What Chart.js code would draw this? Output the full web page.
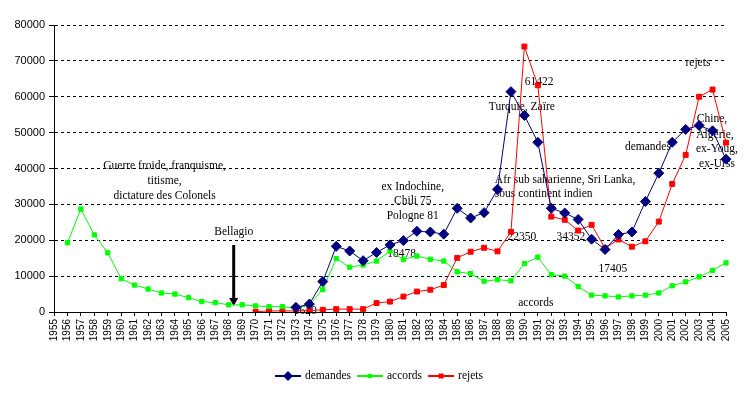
<!DOCTYPE html>
<html>
<head>
<meta charset="utf-8">
<script src="https://cdn.jsdelivr.net/npm/chart.js@4"></script>
<style>
  body { margin: 0; background: #fff; }
  canvas { display: block; }
</style>
</head>
<body>
<canvas id="asileChart" width="750" height="398"></canvas>
<script>
const years = [];
for (let y = 1955; y <= 2005; y++) years.push(String(y));

// 1956-2005
const accords = [null,
  19300, 28700, 21500, 16500, 9300, 7500, 6400, 5300, 5000, 4000,
  2900, 2600, 2000, 2000, 1700, 1500, 1500, 1000, 2000, 6300,
  14900, 12500, 13100, 14200, 17000, 14700, 15600, 14700, 14200, 11200,
  10700, 8600, 9000, 8700, 13500, 15300, 10400, 10000, 7100, 4700,
  4500, 4200, 4500, 4700, 5300, 7300, 8400, 9800, 11600, 13700];

// 1973-2005
const demandes = [null, null, null, null, null, null, null, null, null, null,
  null, null, null, null, null, null, null, null,
  1300, 2200, 8500, 18300, 17000, 14300, 16600, 18700, 19900, 22500,
  22300, 21700, 28900, 26200, 27700, 34200, 61422, 54800, 47300, 28900,
  27600, 25800, 20300, 17405, 21600, 22300, 30800, 38700, 47300, 50900,
  52000, 50500, 42600];

// 1970-2005
const rejets = [null, null, null, null, null, null, null, null, null, null,
  null, null, null, null, null,
  100, 300, 300, 300, 400, 600, 800, 800, 800, 2500,
  2900, 4300, 5700, 6200, 7500, 15100, 16800, 17900, 16900, 22350,
  74000, 63200, 26600, 25700, 22700, 24300, 17800, 20200, 18200, 19700,
  25200, 35700, 43800, 60000, 62000, 47200];

const yTicks = [0, 10000, 20000, 30000, 40000, 50000, 60000, 70000, 80000];

// text notes placed in data units: [text, year index, value, align]
const notes = [
  ['Guerre froide, franquisme,', 8.23, 40780, 'center'],
  ['titisme,', 8.23, 36500, 'center'],
  ['dictature des Colonels', 8.23, 32420, 'center'],
  ['Bellagio', 13.37, 22380, 'center'],
  ['ex Indochine,', 26.69, 34930, 'center'],
  ['Chili 75', 26.69, 30940, 'center'],
  ['Pologne 81', 26.69, 26760, 'center'],
  ['18478', 25.87, 16170, 'center'],
  ['1620', 18.69, 280, 'center'],
  ['61422', 36.1, 64200, 'center'],
  ['Turquie, Zaïre', 34.81, 57140, 'center'],
  ['Afr sub saharienne, Sri Lanka,', 32.8, 36800, 'left'],
  ['sous continent indien', 32.8, 32890, 'left'],
  ['22350', 34.81, 20900, 'center'],
  ['34352', 38.46, 20900, 'center'],
  ['17405', 41.59, 11990, 'center'],
  ['accords', 35.85, 2430, 'center'],
  ['demandes', 44.19, 46080, 'center'],
  ['rejets', 47.91, 69320, 'center'],
  ['Chine,', 48.96, 53720, 'center'],
  ['Algérie,', 49.18, 49340, 'center'],
  ['ex-Youg,', 49.33, 45350, 'center'],
  ['ex-Urss', 49.33, 41260, 'center'],
];
const bellagioArrow = { idx: 13.37, from: 18680, to: 1670 };

const serif = '"Liberation Serif", "Times New Roman", serif';
const sans = '"Liberation Sans", Arial, sans-serif';

const notesPlugin = {
  id: 'notes',
  beforeDatasetsDraw(chart) {
    const { ctx, scales: { x, y } } = chart;
    ctx.save();
    ctx.fillStyle = '#000';
    ctx.font = '11.5px ' + serif;
    ctx.textBaseline = 'middle';
    notes.forEach(([t, i, v, align]) => {
      ctx.textAlign = align;
      ctx.fillText(t, x.getPixelForValue(i), y.getPixelForValue(v));
    });
    // arrow
    const ax = x.getPixelForValue(bellagioArrow.idx);
    const y1 = y.getPixelForValue(bellagioArrow.from);
    const y2 = y.getPixelForValue(bellagioArrow.to);
    ctx.strokeStyle = '#000';
    ctx.lineWidth = 3;
    ctx.beginPath();
    ctx.moveTo(ax, y1);
    ctx.lineTo(ax, y2 - 6);
    ctx.stroke();
    ctx.beginPath();
    ctx.moveTo(ax - 4.5, y2 - 8);
    ctx.lineTo(ax + 4.5, y2 - 8);
    ctx.lineTo(ax, y2);
    ctx.closePath();
    ctx.fill();
    ctx.restore();
  }
};

const legendPlugin = {
  id: 'bottomLegend',
  afterDraw(chart) {
    const { ctx } = chart;
    const items = chart.data.datasets;
    ctx.save();
    ctx.font = '11.5px ' + serif;
    ctx.textBaseline = 'middle';
    ctx.textAlign = 'left';
    let total = 0;
    items.forEach(ds => { total += 30 + ctx.measureText(ds.label).width + 6; });
    total -= 6;
    let x = 379 - total / 2;
    const yc = 376;
    items.forEach(ds => {
      ctx.strokeStyle = ds.borderColor;
      ctx.lineWidth = 2;
      ctx.beginPath();
      ctx.moveTo(x, yc);
      ctx.lineTo(x + 26, yc);
      ctx.stroke();
      ctx.fillStyle = ds.backgroundColor;
      const cx = x + 13;
      const r = ds.pointRadius;
      ctx.beginPath();
      if (ds.pointStyle === 'rectRot') {
        ctx.moveTo(cx, yc - r); ctx.lineTo(cx + r, yc); ctx.lineTo(cx, yc + r); ctx.lineTo(cx - r, yc);
      } else {
        const s = r * Math.SQRT1_2;
        ctx.rect(cx - s, yc - s, 2 * s, 2 * s);
      }
      ctx.closePath();
      ctx.fill();
      ctx.fillStyle = '#000';
      ctx.fillText(ds.label, x + 30, yc);
      x += 30 + ctx.measureText(ds.label).width + 6;
    });
    ctx.restore();
  }
};

new Chart(document.getElementById('asileChart'), {
  type: 'line',
  data: {
    labels: years,
    datasets: [
      {
        label: 'demandes',
        data: demandes,
        borderColor: '#000080',
        backgroundColor: '#000080',
        borderWidth: 1,
        pointStyle: 'rectRot',
        pointRadius: 5,
        pointBorderWidth: 1,
        tension: 0,
      },
      {
        label: 'accords',
        data: accords,
        borderColor: '#00ff00',
        backgroundColor: '#00ff00',
        borderWidth: 1,
        pointStyle: 'rect',
        pointRadius: 3,
        pointBorderWidth: 1,
        tension: 0,
      },
      {
        label: 'rejets',
        data: rejets,
        borderColor: '#ff0000',
        backgroundColor: '#ff0000',
        borderWidth: 1,
        pointStyle: 'rect',
        pointRadius: 3.5,
        pointBorderWidth: 1,
        tension: 0,
      },
    ],
  },
  options: {
    responsive: false,
    animation: false,
    layout: { padding: { top: 25, left: 0, right: 24, bottom: 38 } },
    plugins: {
      legend: { display: false },
      tooltip: { enabled: false },
    },
    scales: {
      x: {
        offset: false,
        grid: { display: true, drawOnChartArea: false, drawTicks: true, tickLength: 4, tickColor: '#000' },
        border: { color: '#000', width: 1 },
        ticks: {
          autoSkip: false, maxRotation: 90, minRotation: 90,
          color: '#000', padding: 3,
          font: { family: sans, size: 10 },
        },
        afterFit(scale) { scale.height = 48; },
      },
      y: {
        min: 0,
        max: 80000,
        afterBuildTicks(scale) { scale.ticks = yTicks.map(v => ({ value: v })); },
        grid: { color: '#000', lineWidth: 1, tickLength: 5, tickColor: '#000', tickBorderDash: [] },
        border: { color: '#000', width: 1, dash: [3, 3] },
        ticks: {
          color: '#000', padding: 4,
          font: { family: sans, size: 11 },
          callback: v => String(v),
        },
        afterFit(scale) { scale.width = 54; },
      },
    },
  },
  plugins: [notesPlugin, legendPlugin],
});
</script>
</body>
</html>
